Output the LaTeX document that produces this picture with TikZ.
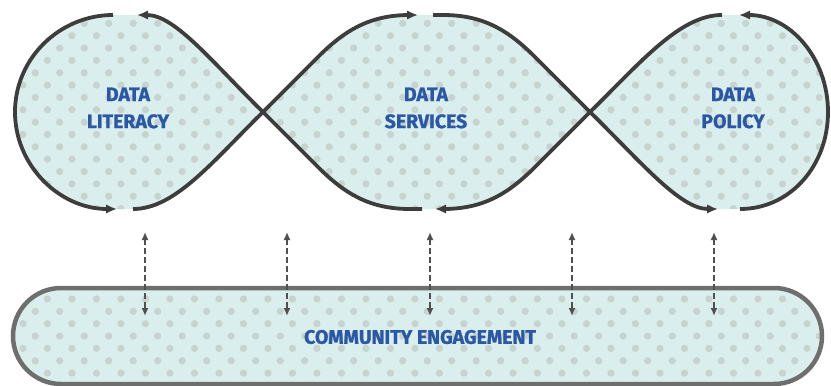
\documentclass[tikz,border=0pt]{standalone}
\usepackage{fontspec}
\newfontfamily\lblfont{Fira Sans}[BoldFeatures={FakeBold=1.2}]
\usetikzlibrary{arrows.meta}

\definecolor{lobefill}{HTML}{DAEEED}
\definecolor{dotgray}{HTML}{C6D3CF}
\definecolor{loopline}{HTML}{3D3D3D}
\definecolor{boxline}{HTML}{6E6E6E}
\definecolor{linkgray}{HTML}{505050}
\definecolor{lblblue}{HTML}{2B57A7}

% outline of the three lobes
\newcommand{\lobeoutline}{(137,15) -- (113,15) .. controls (60,15) and (15,58) .. (15,112)
  .. controls (15,166) and (60,209) .. (117,209) -- (133,209)
  .. controls (175,209) and (212,162) .. (263,112) -- (318,167)
  .. controls (345,194) and (370,209) .. (410,209) -- (443,209)
  .. controls (483,209) and (508,194) .. (535,167) -- (590,112)
  .. controls (641,162) and (680,209) .. (718,209) -- (740,209)
  .. controls (790,209) and (828,166) .. (828,112)
  .. controls (828,58) and (790,15) .. (739,15) -- (722,15)
  .. controls (680,15) and (641,62) .. (590,112) -- (535,57)
  .. controls (508,30) and (483,15) .. (443,15) -- (410,15)
  .. controls (370,15) and (345,30) .. (318,57) -- (263,112)
  .. controls (212,62) and (175,15) .. (137,15) -- cycle}

% dot screen: first row y, last row, row parity
\newcommand{\dotrows}[3]{%
  \foreach \j in {0,...,#2} {
    \foreach \i in {-1,...,33} {
      \pgfmathsetmacro{\dx}{22.95+24.5*\i+12.25*mod(\j+#3,2)}
      \pgfmathsetmacro{\dy}{#1+12.35*\j}
      \fill[dotgray] (\dx,\dy) circle (3.6pt);
    }
  }}

\begin{document}
\begin{tikzpicture}[x=1pt,y=-1pt,
  loopseg/.style={draw=loopline,line width=3.8pt,-{Latex[length=11pt,width=9.5pt]}},
  link/.style={draw=linkgray,line width=2.6pt,dash pattern=on 6pt off 3pt,
    {Latex[length=8pt,width=7pt]}-{Latex[length=8pt,width=7pt]}},
  lbl/.style={text=lblblue,align=center,font=\lblfont\bfseries\fontsize{19.5}{27}\selectfont}]
\useasboundingbox (0,0) rectangle (831,386);

% lobes
\fill[lobefill] \lobeoutline;
\begin{scope}
  \clip \lobeoutline;
  \dotrows{11}{17}{0}
\end{scope}

\coordinate (x1) at (263,112);
\coordinate (x2) at (590,112);

\draw[loopseg] (133,209) .. controls (175,209) and (212,162) .. (x1) -- (318,57)
  .. controls (345,30) and (370,15) .. (410,15) -- (418,15);
\draw[loopseg] (433,15) -- (443,15) .. controls (483,15) and (508,30) .. (535,57) -- (x2)
  .. controls (641,162) and (680,209) .. (718,209);
\draw[loopseg] (740,209) .. controls (790,209) and (828,166) .. (828,112)
  .. controls (828,58) and (790,15) .. (739,15);
\draw[loopseg] (722,15) .. controls (680,15) and (641,62) .. (x2) -- (535,167)
  .. controls (508,194) and (483,209) .. (443,209) -- (435,209);
\draw[loopseg] (422,209) -- (410,209) .. controls (370,209) and (345,194) .. (318,167) -- (x1)
  .. controls (212,62) and (175,15) .. (137,15);
\draw[loopseg] (113,15) .. controls (60,15) and (15,58) .. (15,112)
  .. controls (15,166) and (60,209) .. (117,209);

\node[lbl] (literacy) at (128,108) {DATA\\LITERACY};
\node[lbl] (services) at (426,108) {DATA\\SERVICES};
\node[lbl] (policy) at (733,108) {DATA\\POLICY};

% community bar
\fill[lobefill,rounded corners=48pt] (13,288) rectangle (822,384);
\begin{scope}
  \clip[rounded corners=48pt] (13,288) rectangle (822,384);
  \dotrows{286.65}{8}{1}
\end{scope}
\draw[boxline,line width=4.5pt,rounded corners=48pt] (13,288) rectangle (822,384);
\node[lbl] (community) at (420,337) {COMMUNITY ENGAGEMENT};

% links between lobes and bar
\foreach \x [count=\i] in {145,287,430,572,714} {
  \coordinate (top\i) at (\x,232);
  \coordinate (bot\i) at (\x,316);
  \draw[link] (top\i) -- (bot\i);
}
\end{tikzpicture}
\end{document}
